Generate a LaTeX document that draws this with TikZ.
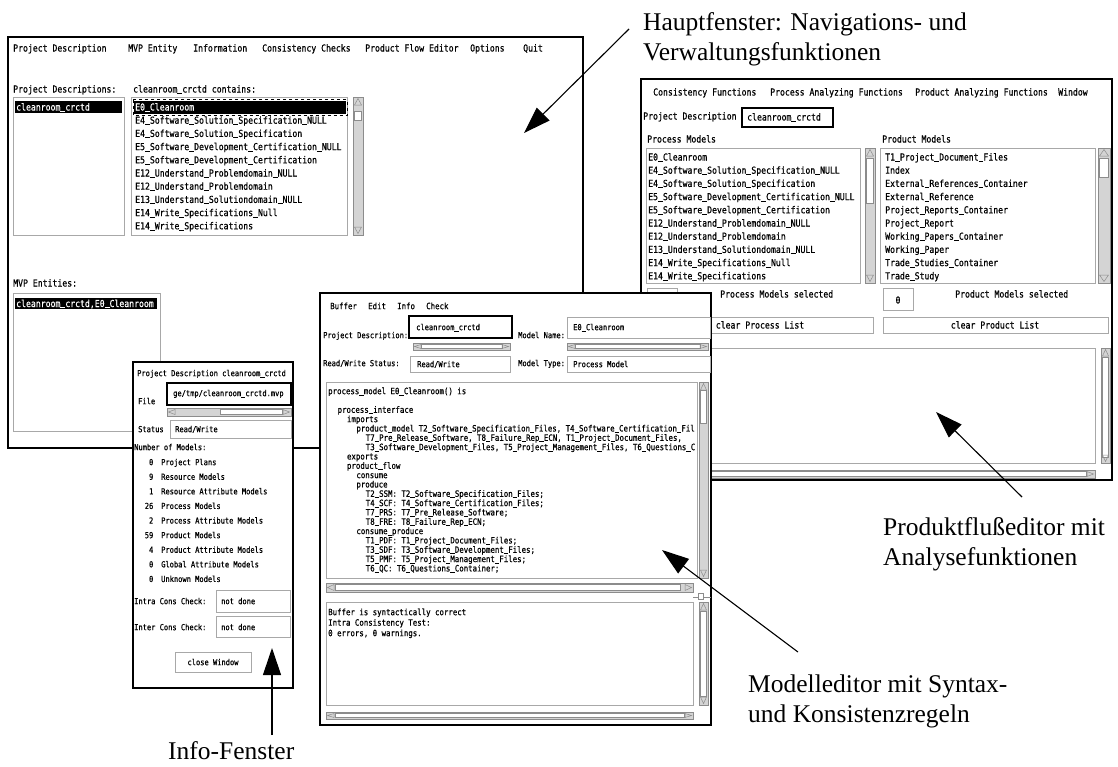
\documentclass[tikz,border=0pt]{standalone}
\usepackage{fontspec}
\usetikzlibrary{arrows.meta}

\newfontfamily\lblfont{Liberation Serif}
\newfontfamily\scrfont[FakeStretch=0.85, FakeBold=0.6]{DejaVu Sans Mono}

% a firmer underscore for the screen font
\let\usglyph\_
\renewcommand{\_}{\setbox0\hbox{\usglyph}\rlap{\rule[-1.3pt]{\wd0}{0.9pt}}\kern\wd0\relax}

\definecolor{boxgray}{HTML}{A8A8A8}
\definecolor{barfill}{HTML}{D4D4D4}
\definecolor{bargray}{HTML}{8C8C8C}

\tikzset{
  win/.style={draw=black, line width=2.5pt, fill=white},
  field/.style={draw=boxgray, line width=1pt, fill=white},
  thickfield/.style={draw=black, line width=1.8pt, fill=white},
  scr/.style={font=\scrfont\fontsize{9.6}{10}\selectfont, inner sep=0pt, anchor=west, text height=7pt, text depth=0pt},
  scrs/.style={font=\scrfont\fontsize{8.7}{9}\selectfont, inner sep=0pt, anchor=west, text height=6.3pt, text depth=0pt},
  scrx/.style={scrs, font=\scrfont\fontsize{8.3}{9}\selectfont},
  sel/.style={fill=black},
  callout/.style={line width=1.1pt, -{Triangle[length=27pt,width=18pt]}},
  lbl/.style={font=\lblfont\fontsize{25.5}{30}\selectfont, inner sep=0pt, anchor=north west, align=left},
}

% scroll bars: x1 y1 x2 y2 and the two ends of the slider
\newcommand{\scrollv}[6]{%
  \draw[draw=bargray, fill=barfill, line width=0.6pt] (#1,#2) rectangle (#3,#4);
  \draw[draw=bargray, fill=white, line width=0.6pt] (#1+1.5,#5) rectangle (#3-1.5,#6);
  \draw[bargray, line width=0.5pt] ({(#1+#3)/2},#2+1.5) -- (#1+1.5,#2+8) -- (#3-1.5,#2+8) -- cycle;
  \draw[bargray, line width=0.5pt] ({(#1+#3)/2},#4-1.5) -- (#1+1.5,#4-8) -- (#3-1.5,#4-8) -- cycle;
}
\newcommand{\scrollh}[6]{%
  \draw[draw=bargray, fill=barfill, line width=0.6pt] (#1,#2) rectangle (#3,#4);
  \draw[draw=bargray, fill=white, line width=0.6pt] (#5,#2+1.5) rectangle (#6,#4-1.5);
  \draw[bargray, line width=0.5pt] (#1+1.5,{(#2+#4)/2}) -- (#1+8,#2+1.5) -- (#1+8,#4-1.5) -- cycle;
  \draw[bargray, line width=0.5pt] (#3-1.5,{(#2+#4)/2}) -- (#3-8,#2+1.5) -- (#3-8,#4-1.5) -- cycle;
}

\begin{document}
\begin{tikzpicture}[x=1pt, y=-1pt]
  \useasboundingbox (0,0) rectangle (1118,766);

  % main window
  \draw[win] (8,37) rectangle (583,448);
  \node[scr] (m-proj) at (13,48) {Project Description};
  \node[scr] (m-mvp) at (128,48) {MVP Entity};
  \node[scr] (m-info) at (193,48) {Information};
  \node[scr] (m-cons) at (262,48) {Consistency Checks};
  \node[scr] (m-flow) at (365,48) {Product Flow Editor};
  \node[scr] (m-opt) at (470,48) {Options};
  \node[scr] (m-quit) at (523,48) {Quit};

  \node[scr] (pd-lbl) at (13,89) {Project Descriptions:};
  \node[scr] (pc-lbl) at (133,89) {cleanroom\_crctd contains:};
  \draw[field] (13,97) rectangle (124,235);
  \fill[sel] (15,101) rectangle (122,113);
  \node[scr, text=white] (pd-sel) at (16,107) {cleanroom\_crctd};

  \draw[field] (131,97) rectangle (347,235);
  \fill[sel] (134,101) rectangle (346,113.5);
  \draw[dashed, line width=0.8pt] (133,99.5) rectangle (347,115);
  \node[scr, text=white] (pc-sel) at (135,107) {E0\_Cleanroom};
  \foreach \t [count=\i] in {E4\_Software\_Solution\_Specification\_NULL,
      E4\_Software\_Solution\_Specification,
      E5\_Software\_Development\_Certification\_NULL,
      E5\_Software\_Development\_Certification,
      E12\_Understand\_Problemdomain\_NULL, E12\_Understand\_Problemdomain,
      E13\_Understand\_Solutiondomain\_NULL, E14\_Write\_Specifications\_Null,
      E14\_Write\_Specifications}
    \node[scr] (pc-\i) at (135,{107+13.2*\i}) {\t};
  \scrollv{353}{97}{363}{235}{111}{120}

  \node[scr] (mvp-lbl) at (13,283) {MVP Entities:};
  \draw[field] (13,293) rectangle (160,431);
  \fill[sel] (15,298) rectangle (157,309);
  \node[scr, text=white] (mvp-sel) at (16,303.5) {cleanroom\_crctd,E0\_Cleanroom};

  % product flow editor
  \draw[win] (641,79) rectangle (1112,480);
  \node[scr] (r-cons) at (653,92) {Consistency Functions};
  \node[scr] (r-proc) at (770,92) {Process Analyzing Functions};
  \node[scr] (r-prod) at (915,92) {Product Analyzing Functions};
  \node[scr] (r-win) at (1058,92) {Window};
  \node[scr] (r-lbl) at (643,116) {Project Description};
  \draw[thickfield] (742,108) rectangle (833,127);
  \node[scr] (r-proj) at (747,117) {cleanroom\_crctd};

  \node[scr] (pm-lbl) at (647,139) {Process Models};
  \node[scr] (tm-lbl) at (882,139) {Product Models};
  \draw[field] (646,148) rectangle (860,283);
  \foreach \t [count=\i] in {E0\_Cleanroom, E4\_Software\_Solution\_Specification\_NULL,
      E4\_Software\_Solution\_Specification,
      E5\_Software\_Development\_Certification\_NULL,
      E5\_Software\_Development\_Certification,
      E12\_Understand\_Problemdomain\_NULL, E12\_Understand\_Problemdomain,
      E13\_Understand\_Solutiondomain\_NULL, E14\_Write\_Specifications\_Null,
      E14\_Write\_Specifications}
    \node[scr] (pm-\i) at (648,{157+13.2*(\i-1)}) {\t};
  \scrollv{865}{148}{875}{283}{158}{203}
  \draw[field] (880,148) rectangle (1095,283);
  \foreach \t [count=\i] in {T1\_Project\_Document\_Files, Index,
      External\_References\_Container, External\_Reference,
      Project\_Reports\_Container, Project\_Report, Working\_Papers\_Container,
      Working\_Paper, Trade\_Studies\_Container, Trade\_Study}
    \node[scr] (tm-\i) at (885,{157+13.2*(\i-1)}) {\t};
  \scrollv{1098}{148}{1110}{283}{158}{177}

  \draw[field] (647,288) rectangle (677,310);
  \node[scr] (pm-sel) at (720,294) {Process Models selected};
  \draw[field] (883,288) rectangle (913,310);
  \node[scr, anchor=center] (tm-num) at (898,300) {0};
  \node[scr] (tm-sel) at (955,294) {Product Models selected};
  \draw[field] (647,317) rectangle (873,333);
  \node[scr, anchor=center] (pm-clear) at (760,325) {clear Process List};
  \draw[field] (883,317) rectangle (1108,333);
  \node[scr, anchor=center] (tm-clear) at (995,325) {clear Product List};

  \draw[field] (646,348) rectangle (1095,463);
  \scrollv{1101}{348}{1110}{463}{357}{457}
  \scrollh{646}{470}{1095}{478}{655}{1086}

  % model editor
  \draw[win] (320,293) rectangle (711,725);
  \node[scrs] (e-buf) at (330,306) {Buffer};
  \node[scrs] (e-edit) at (368,306) {Edit};
  \node[scrs] (e-info) at (397,306) {Info};
  \node[scrs] (e-check) at (426,306) {Check};

  \node[scrx] (e-pd) at (323,335) {Project Description:};
  \draw[thickfield] (409,316) rectangle (512,338);
  \node[scrx] (e-pdv) at (416,327) {cleanroom\_crctd};
  \node[scrx] (e-mn) at (518,335) {Model Name:};
  \draw[field] (567,317) rectangle (710,338);
  \node[scrx] (e-mnv) at (573,327) {E0\_Cleanroom};
  \scrollh{413}{343}{510}{350}{421}{502}
  \scrollh{567}{343}{708}{350}{575}{700}
  \node[scrx] (e-rw) at (323,363) {Read/Write Status:};
  \draw[field] (410,356) rectangle (510,372);
  \node[scrx] (e-rwv) at (417,364) {Read/Write};
  \node[scrx] (e-mt) at (518,363) {Model Type:};
  \draw[field] (567,356) rectangle (710,372);
  \node[scrx] (e-mtv) at (573,364) {Process Model};

  \draw[field] (326,382) rectangle (697,578);
  \scrollv{699}{382}{708}{578}{390}{423}
  \foreach \lv/\t [count=\i from 0] in {
      0/{process\_model E0\_Cleanroom() is}, 0/{},
      1/{process\_interface}, 2/{imports},
      3/{product\_model T2\_Software\_Specification\_Files, T4\_Software\_Certification\_Fil},
      4/{T7\_Pre\_Release\_Software, T8\_Failure\_Rep\_ECN, T1\_Project\_Document\_Files,},
      4/{T3\_Software\_Development\_Files, T5\_Project\_Management\_Files, T6\_Questions\_C},
      2/{exports}, 2/{product\_flow}, 3/{consume}, 3/{produce},
      4/{T2\_SSM: T2\_Software\_Specification\_Files;},
      4/{T4\_SCF: T4\_Software\_Certification\_Files;},
      4/{T7\_PRS: T7\_Pre\_Release\_Software;},
      4/{T8\_FRE: T8\_Failure\_Rep\_ECN;},
      3/{consume\_produce},
      4/{T1\_PDF: T1\_Project\_Document\_Files;},
      4/{T3\_SDF: T3\_Software\_Development\_Files;},
      4/{T5\_PMF: T5\_Project\_Management\_Files;},
      4/{T6\_QC: T6\_Questions\_Container;}}
    \node[scrs] (code-\i) at ({328+9.4*\lv},{391+9.33*\i}) {\t};

  \scrollh{326}{583}{693}{592}{335}{680}
  \draw[bargray] (693,597) -- (711,597);
  \draw[bargray, fill=white] (698,593) rectangle (703,599);
  \draw[field] (326,602) rectangle (693,705);
  \scrollv{699}{602}{708}{705}{611}{696}
  \node[scrs] (msg-1) at (328,612) {Buffer is syntactically correct};
  \node[scrs] (msg-2) at (328,622.5) {Intra Consistency Test:};
  \node[scrs] (msg-3) at (328,633) {0 errors, 0 warnings.};
  \scrollh{326}{712}{693}{719}{335}{684}

  % info window
  \draw[win] (133,362) rectangle (293,688);
  \node[scrx] (i-pd) at (137,373) {Project Description cleanroom\_crctd};
  \node[scrx] (i-file) at (138,401) {File};
  \draw[thickfield] (167,383) rectangle (291,405);
  \node[scrx] (i-filev) at (173,393) {ge/tmp/cleanroom\_crctd.mvp};
  \scrollh{167}{408}{291}{416}{220}{282}
  \node[scrx] (i-st) at (138,429) {Status};
  \draw[field] (170,420) rectangle (291,438);
  \node[scrx] (i-stv) at (175,429) {Read/Write};
  \node[scrx] (i-num) at (134,447) {Number of Models:};
  \foreach \n/\t [count=\i from 0] in {0/Project Plans, 9/Resource Models,
      1/Resource Attribute Models, 26/Process Models, 2/Process Attribute Models,
      59/Product Models, 4/Product Attribute Models, 0/Global Attribute Models,
      0/Unknown Models} {
    \node[scrx, anchor=east] (cnt-\i) at (153.5,{462+14.6*\i}) {\n};
    \node[scrx] (kind-\i) at (161,{462+14.6*\i}) {\t};
  }
  \node[scrx] (i-intra) at (134,601) {Intra Cons Check:};
  \draw[field] (216,590) rectangle (290,612);
  \node[scrx] (i-intrav) at (221,601) {not done};
  \node[scrx] (i-inter) at (134,627) {Inter Cons Check:};
  \draw[field] (216,616) rectangle (290,637);
  \node[scrx] (i-interv) at (221,627) {not done};
  \draw[field] (175,652) rectangle (251,672);
  \node[scrx, anchor=center] (i-close) at (213,662) {close Window};

  % labels with their arrows
  \node[lbl] (haupt) at (643,12.6) {Hauptfenster: Navigations- und\\Verwaltungsfunktionen};
  \coordinate (haupt-from) at (629,29);
  \coordinate (haupt-to) at (524,133);
  \draw[callout] (haupt-from) -- (haupt-to);

  \node[lbl] (pflow) at (883,517.6) {Produktflußeditor mit\\Analysefunktionen};
  \coordinate (pflow-from) at (1022,497);
  \coordinate (pflow-to) at (936,412);
  \draw[callout] (pflow-from) -- (pflow-to);

  \node[lbl] (medit) at (748,674.6) {Modelleditor mit Syntax-\\und Konsistenzregeln};
  \coordinate (medit-from) at (798,652);
  \coordinate (medit-to) at (662,550);
  \draw[callout] (medit-from) -- (medit-to);

  \node[lbl] (infow) at (168,741.6) {Info-Fenster};
  \coordinate (infow-from) at (272,735);
  \coordinate (infow-to) at (272,648);
  \draw[callout] (infow-from) -- (infow-to);
\end{tikzpicture}
\end{document}
